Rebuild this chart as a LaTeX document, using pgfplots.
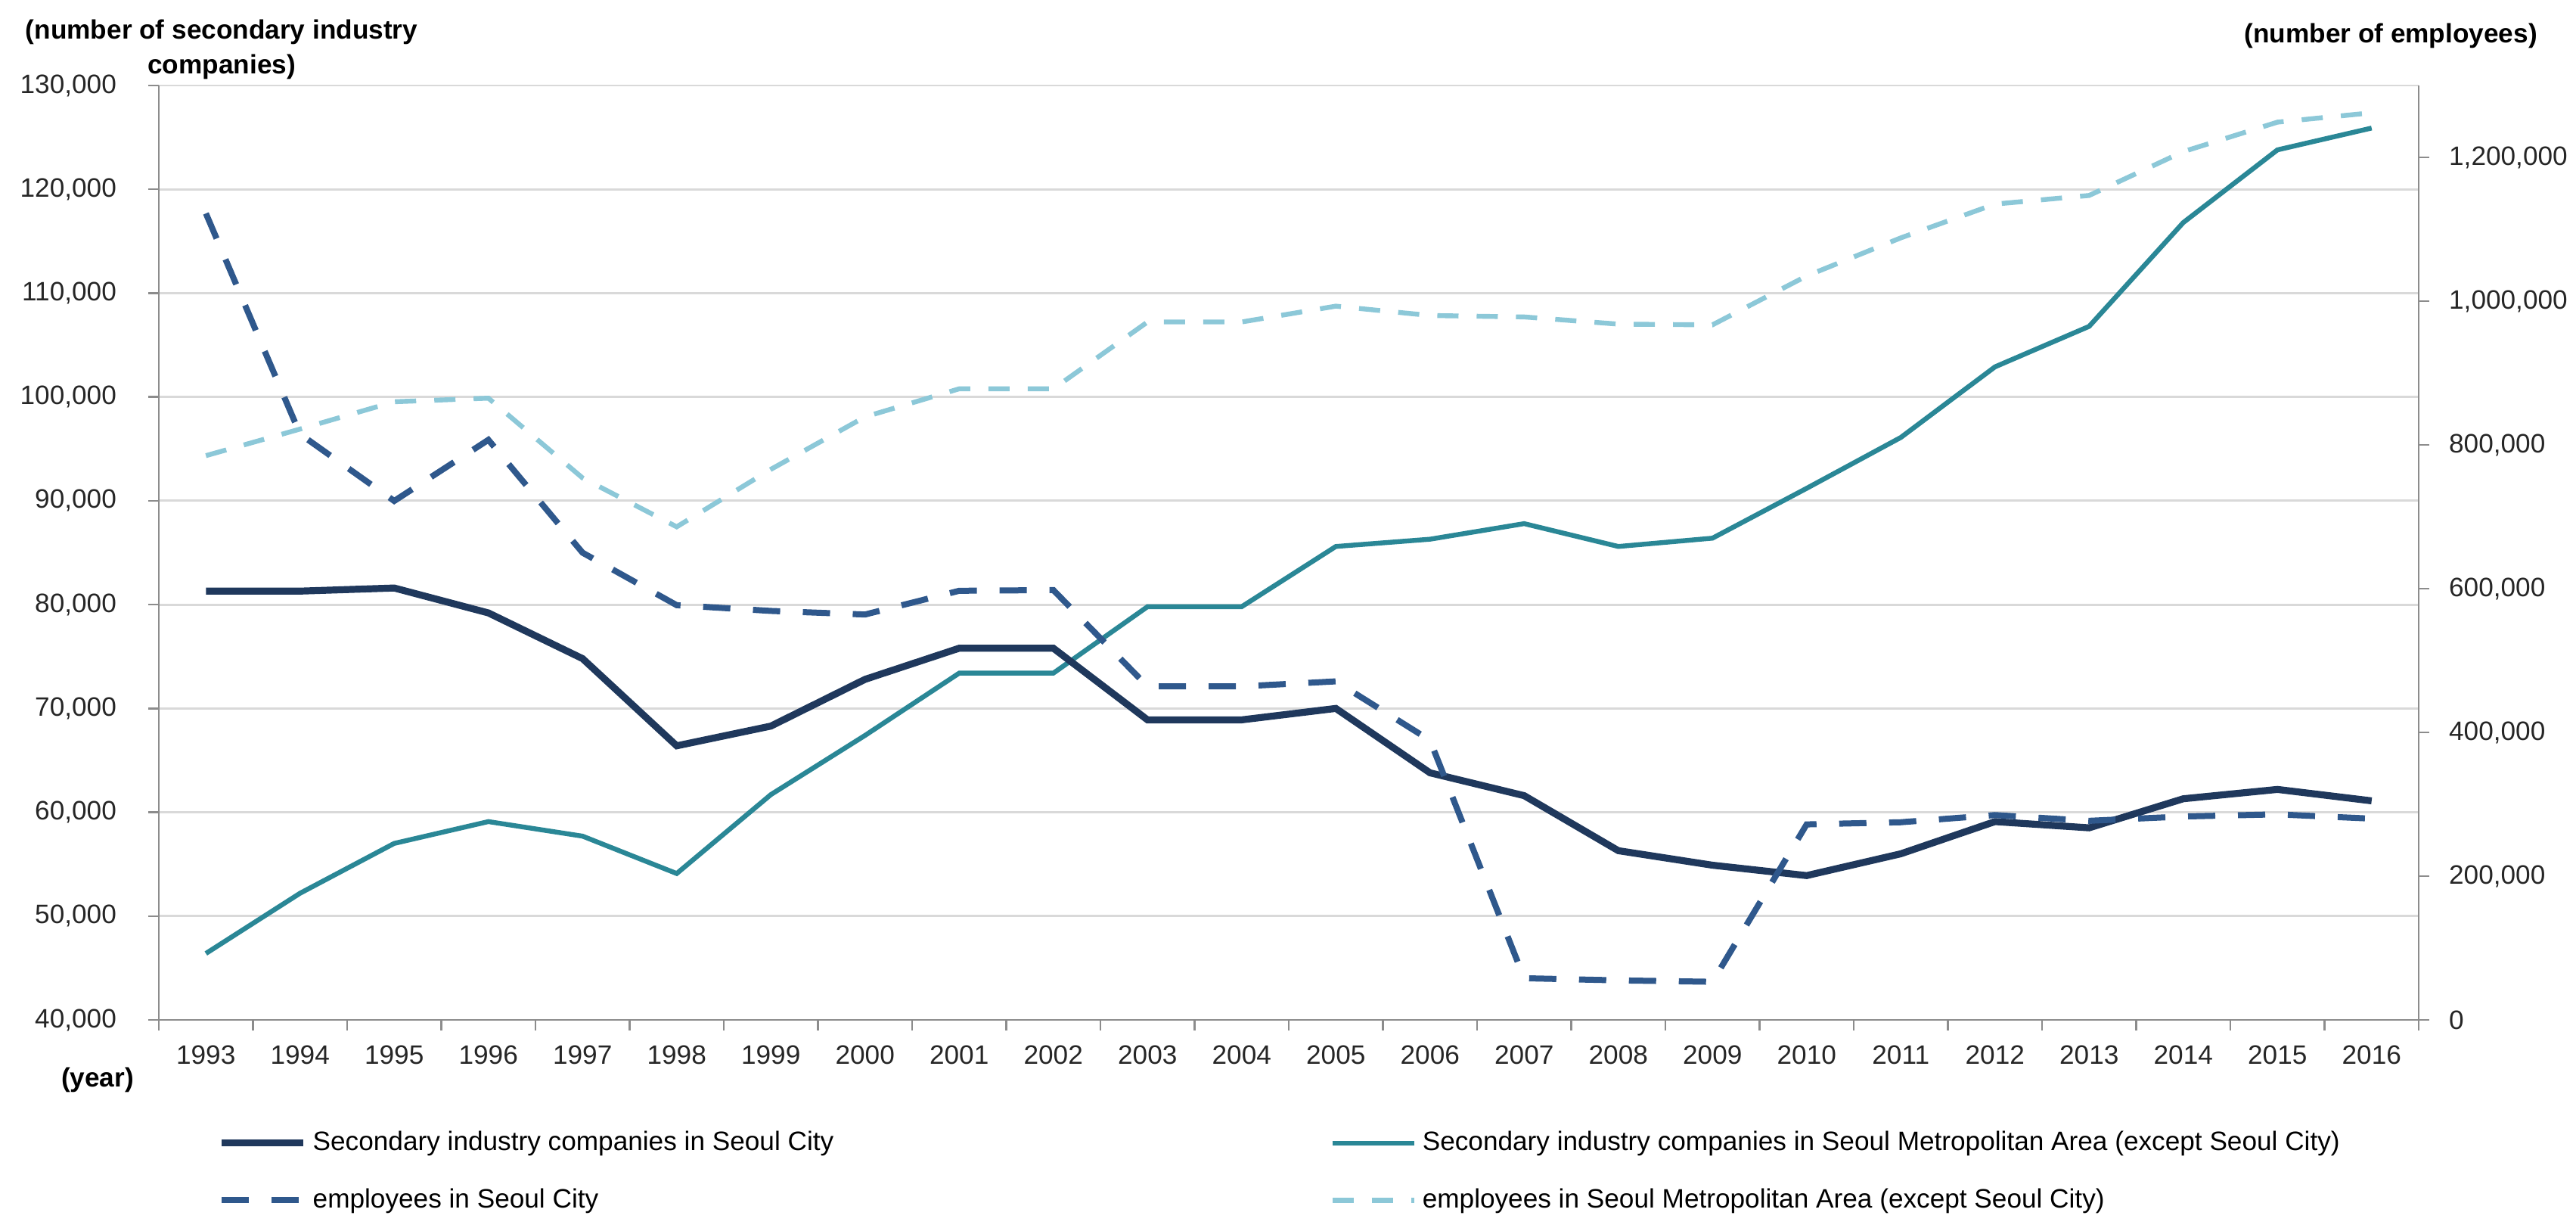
\documentclass[border=0pt]{standalone}
\usepackage{fontspec}
\setmainfont{Liberation Sans}
\usepackage{pgfplots}
\pgfplotsset{compat=1.18}
\definecolor{navy}{HTML}{1F385C}
\definecolor{steel}{HTML}{2F588C}
\definecolor{tealc}{HTML}{2A8796}
\definecolor{lightb}{HTML}{8CC8D8}
\definecolor{gridc}{HTML}{D9D9D9}
\definecolor{axc}{HTML}{8C8C8C}
\newcommand{\fs}{\fontsize{8.8}{10.5}\selectfont}
\pgfplotsset{
  numfmt/.style={/pgf/number format/fixed, /pgf/number format/1000 sep={,}, /pgf/number format/assume math mode=true},
}
\begin{document}
\begin{tikzpicture}
\useasboundingbox (-52.5pt,-69.75pt) rectangle (799pt,337pt);
\begin{axis}[
  at={(0pt,0pt)}, anchor=south west,
  scale only axis, width=747pt, height=308.75pt,
  clip=false,
  xmin=-0.5, xmax=23.5, ymin=40000, ymax=130000,
  axis x line*=bottom, axis y line*=left,
  axis line style={-, draw=axc, line width=0.7pt},
  tick align=outside, major tick length=3.5pt,
  tick style={draw=axc, line width=0.6pt},
  xtick={-0.5,0.5,...,23.5}, xticklabels={},
  extra x ticks={0,1,...,23},
  extra x tick labels={1993,1994,1995,1996,1997,1998,1999,2000,2001,2002,2003,2004,2005,2006,2007,2008,2009,2010,2011,2012,2013,2014,2015,2016},
  extra x tick style={major tick length=0pt, xticklabel style={yshift=-5pt}},
  ytick={40000,50000,...,130000},
  ymajorgrids, grid style={draw=gridc, line width=0.7pt},
  scaled y ticks=false,
  numfmt,
  yticklabel style={xshift=-7pt},
  tick label style={font=\fs, text=black!85},
]
\addplot[tealc, line width=1.6pt] coordinates {
(0,46400) (1,52200) (2,57000) (3,59100) (4,57700) (5,54100) (6,61700) (7,67400)
(8,73400) (9,73400) (10,79800) (11,79800) (12,85600) (13,86300) (14,87800) (15,85600)
(16,86400) (17,91200) (18,96100) (19,102900) (20,106800) (21,116800) (22,123800) (23,125900)};
\addplot[navy, line width=2.3pt] coordinates {
(0,81300) (1,81300) (2,81600) (3,79200) (4,74800) (5,66400) (6,68300) (7,72800)
(8,75800) (9,75800) (10,68900) (11,68900) (12,70000) (13,63800) (14,61600) (15,56300)
(16,54900) (17,53900) (18,56000) (19,59100) (20,58500) (21,61300) (22,62200) (23,61100)};
\node[font=\bfseries\fontsize{8.8}{11.5}\selectfont, align=center] at (axis description cs:0.0278,1.0389) {(number of secondary industry\\companies)};
\node[font=\bfseries\fs, anchor=east] at (axis description cs:1.0572,1.0534) {(number of employees)};
\node[font=\bfseries\fs] at (axis description cs:-0.0271,-0.064) {(year)};
\end{axis}
\begin{axis}[
  at={(0pt,0pt)}, anchor=south west,
  scale only axis, width=747pt, height=308.75pt,
  xmin=-0.5, xmax=23.5, ymin=0, ymax=1300000,
  axis x line=none, axis y line*=right,
  axis line style={-, draw=axc, line width=0.7pt},
  tick align=outside, major tick length=3.5pt,
  tick style={draw=axc, line width=0.6pt},
  ytick={0,200000,...,1200000},
  scaled y ticks=false,
  numfmt,
  yticklabel style={xshift=3pt},
  tick label style={font=\fs, text=black!85},
  legend columns=2,
  legend style={at={(0.026,-0.112)}, anchor=north west, draw=none, fill=none, font=\fs,
    inner sep=0pt, row sep=7pt,
    /tikz/every even column/.append style={column sep=162pt}},
  legend cell align=left,
  legend image code/.code={\draw[#1] (0pt,0pt) -- (27pt,0pt);},
]
\addlegendimage{navy, line width=2.3pt}
\addlegendentry{Secondary industry companies in Seoul City}
\addlegendimage{tealc, line width=1.6pt}
\addlegendentry{Secondary industry companies in Seoul Metropolitan Area (except Seoul City)}
\addplot[steel, line width=2pt, dash pattern=on 9pt off 7.5pt] coordinates {
(0,1122000) (1,815000) (2,722000) (3,807000) (4,650000) (5,577000) (6,569000) (7,564000)
(8,597000) (9,598000) (10,464000) (11,464000) (12,471000) (13,389000) (14,58000) (15,55000)
(16,53000) (17,272000) (18,275000) (19,285000) (20,277000) (21,283000) (22,286000) (23,280000)};
\addlegendentry{employees in Seoul City}
\addplot[lightb, line width=1.6pt, dash pattern=on 7pt off 6pt] coordinates {
(0,785000) (1,822000) (2,860000) (3,865000) (4,754000) (5,686000) (6,766000) (7,839000)
(8,878000) (9,878000) (10,971000) (11,971000) (12,993000) (13,980000) (14,978000) (15,968000)
(16,967000) (17,1035000) (18,1088000) (19,1135000) (20,1147000) (21,1208000) (22,1249000) (23,1262000)};
\addlegendentry{employees in Seoul Metropolitan Area (except Seoul City)}
\end{axis}
\end{tikzpicture}
\end{document}
